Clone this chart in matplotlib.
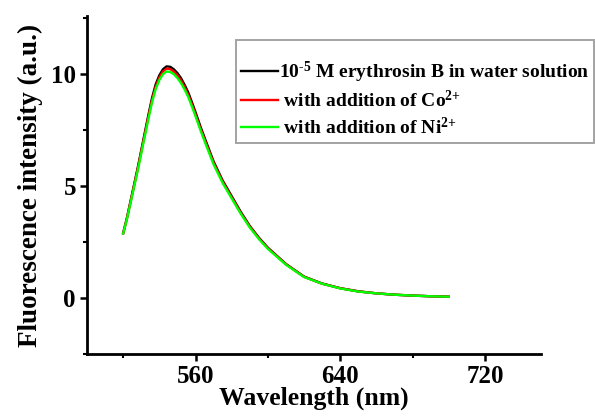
import matplotlib.pyplot as plt
from matplotlib.ticker import MultipleLocator

# emission spectra (nm, a.u.)
wavelength = [520, 522, 524, 526, 528, 530, 532, 534, 536, 538,
              540, 542, 544, 546, 548, 550, 552, 554, 556, 558,
              560, 563, 566, 570, 575, 580, 585, 590, 595, 600,
              610, 620, 630, 640, 650, 660, 670, 680, 690, 700]

erythrosin = [2.90, 3.55, 4.30, 5.05, 5.80, 6.60, 7.40, 8.20, 8.95, 9.55,
              9.95, 10.22, 10.35, 10.33, 10.22, 10.05, 9.82, 9.52, 9.18, 8.75,
              8.30, 7.60, 6.95, 6.10, 5.25, 4.55, 3.85, 3.22, 2.70, 2.25,
              1.52, 0.96, 0.65, 0.44, 0.30, 0.21, 0.15, 0.11, 0.08, 0.06]

with_co = [2.89, 3.53, 4.27, 5.01, 5.75, 6.54, 7.33, 8.12, 8.86, 9.45,
           9.85, 10.12, 10.25, 10.23, 10.12, 9.95, 9.72, 9.42, 9.08, 8.66,
           8.21, 7.52, 6.88, 6.04, 5.20, 4.50, 3.81, 3.19, 2.67, 2.23,
           1.51, 0.95, 0.64, 0.44, 0.30, 0.21, 0.15, 0.11, 0.08, 0.06]

with_ni = [2.88, 3.50, 4.22, 4.95, 5.68, 6.46, 7.24, 8.02, 8.76, 9.34,
           9.74, 10.00, 10.12, 10.10, 10.00, 9.83, 9.60, 9.31, 8.98, 8.56,
           8.12, 7.44, 6.80, 5.97, 5.14, 4.45, 3.77, 3.15, 2.64, 2.20,
           1.49, 0.94, 0.64, 0.43, 0.29, 0.21, 0.15, 0.11, 0.08, 0.06]

labels = [r'10$^{\text{-5}}$ M erythrosin B in water solution',
          r' with addition of Co$^{2{+}}$',
          r' with addition of Ni$^{2{+}}$']

plt.rcParams['font.family'] = 'Liberation Serif'
plt.rcParams['font.weight'] = 'bold'
plt.rcParams['mathtext.fontset'] = 'custom'
plt.rcParams['mathtext.rm'] = 'Liberation Serif:bold'
plt.rcParams['mathtext.it'] = 'Liberation Serif:bold'
plt.rcParams['mathtext.bf'] = 'Liberation Serif:bold'

fig = plt.figure(figsize=(5.95, 4.2), dpi=100)
ax = fig.add_axes([0.1462, 0.1571, 0.7630, 0.8048])

ax.plot(wavelength, erythrosin, color='black', lw=1.7, label=labels[0])
ax.plot(wavelength, with_co, color='red', lw=1.7, label=labels[1])
ax.plot(wavelength, with_ni, color='#00ff00', lw=1.7, label=labels[2])

ax.set_xlim(500, 751)
ax.set_ylim(-2.5, 12.6)
ax.xaxis.set_major_locator(MultipleLocator(80))
ax.xaxis.set_minor_locator(MultipleLocator(40))
ax.yaxis.set_major_locator(MultipleLocator(5))
ax.yaxis.set_minor_locator(MultipleLocator(2.5))

for side in ['top', 'right']:
    ax.spines[side].set_visible(False)
for side in ['left', 'bottom']:
    ax.spines[side].set_linewidth(2)

ax.tick_params(which='major', direction='out', length=5, width=1.8, labelsize=18, pad=3)
ax.tick_params(which='minor', direction='out', length=3, width=1.5)

ax.set_xlabel('Wavelength (nm)', fontsize=18.5, fontweight='bold', labelpad=-1)
ax.set_ylabel('Fluorescence intensity (a.u.)', fontsize=19.5, fontweight='bold', labelpad=6)

leg = ax.legend(loc='upper left', bbox_to_anchor=(236 / 595, 1 - 40 / 420),
                bbox_transform=fig.transFigure, title=' ', title_fontsize=8,
                fontsize=14, frameon=True, fancybox=False, handlelength=1.9,
                handletextpad=0.05, borderpad=0.25, labelspacing=0.28,
                borderaxespad=0)
leg.get_frame().set_edgecolor('#8c8c8c')
leg.get_frame().set_linewidth(1.4)
for txt in leg.get_texts():
    txt.set_fontweight('bold')

fig.savefig('out.png', dpi=100)
